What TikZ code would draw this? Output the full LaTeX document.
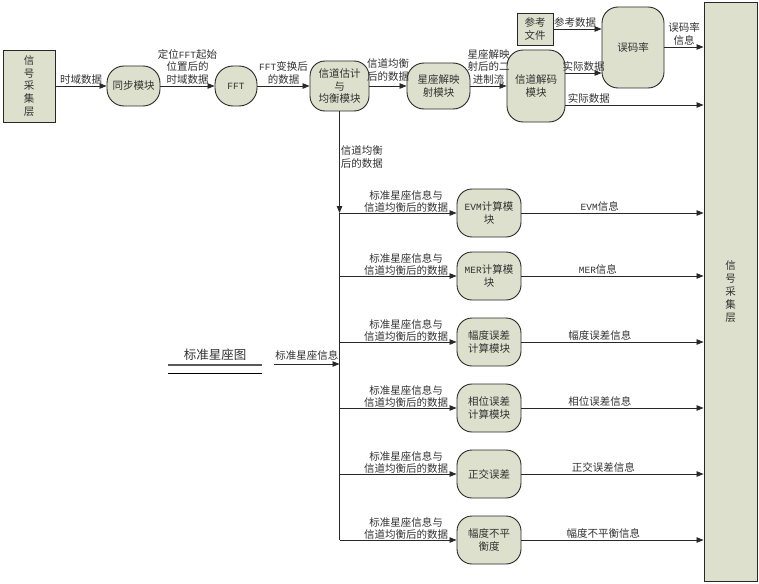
\documentclass[tikz,border=0pt]{standalone}
\usepackage{fontspec}
\setmainfont{Noto Sans CJK SC}
\setmonofont{Liberation Mono}
\usetikzlibrary{arrows.meta}
\definecolor{nodefill}{RGB}{221,224,204}
\definecolor{edgecol}{RGB}{40,40,40}
\definecolor{txtcol}{RGB}{50,50,50}
\newcommand{\lt}[1]{{\ttfamily\fontsize{9.5}{12}\selectfont #1}}
\tikzset{
  base/.style={draw=edgecol, line width=0.9pt, fill=nodefill, align=center, inner sep=1pt,
    text=txtcol, font=\fontsize{10.5}{12.8}\selectfont},
  proc/.style={base, rounded corners=15pt},
  boxnode/.style={base, rectangle},
  arr/.style={-{Triangle[length=7pt,width=5.5pt]}, line width=0.8pt, draw=edgecol},
  plain/.style={line width=0.8pt, draw=edgecol},
  lbl/.style={align=center, inner sep=1pt, text=txtcol, font=\fontsize{10.5}{12.8}\selectfont},
}
\begin{document}
\begin{tikzpicture}[x=1pt,y=-1pt]
\useasboundingbox (0,0) rectangle (759,583);
% main row
\node[boxnode, minimum width=52pt, minimum height=72pt] (src) at (29,86) {信\\号\\采\\集\\层};
\node[proc, minimum width=53pt, minimum height=40pt, rounded corners=17pt] (sync) at (133.5,86) {同步模块};
\node[proc, minimum width=42pt, minimum height=40pt, rounded corners=18pt] (fft) at (236,86) {\lt{FFT}};
\node[proc, minimum width=59pt, minimum height=50pt] (est) at (339.5,86) {信道估计\\与\\均衡模块};
\node[proc, minimum width=63pt, minimum height=46pt, rounded corners=17pt] (demap) at (438.5,86) {星座解映\\射模块};
\node[proc, minimum width=58pt, minimum height=72pt, rounded corners=16pt] (decode) at (536,86) {信道解码\\模块};
\node[boxnode, minimum width=36pt, minimum height=32pt] (ref) at (535,29) {参考\\文件};
\node[proc, minimum width=62pt, minimum height=81pt, rounded corners=16pt] (ber) at (633,47.5) {误码率};
\node[boxnode, minimum width=53pt, minimum height=579pt] (sink) at (730.5,291.5) {信\\号\\采\\集\\层};

% branch modules
\node[proc, minimum width=64pt, minimum height=48pt] (evm) at (489,213) {\lt{EVM}计算模\\块};
\node[proc, minimum width=64pt, minimum height=48pt] (mer) at (489,276) {\lt{MER}计算模\\块};
\node[proc, minimum width=64pt, minimum height=48pt] (amp) at (489,342) {幅度误差\\计算模块};
\node[proc, minimum width=64pt, minimum height=48pt] (pha) at (489,408) {相位误差\\计算模块};
\node[proc, minimum width=64pt, minimum height=48pt] (quad) at (489,474) {正交误差};
\node[proc, minimum width=64pt, minimum height=48pt] (unb) at (489,540) {幅度不平\\衡度};

% main row arrows
\draw[arr] (src.east) -- node[lbl, above] {时域数据} (sync.west);
\draw[arr] (sync.east) -- node[lbl, above] {定位\lt{FFT}起始\\位置后的\\时域数据} (fft.west);
\draw[arr] (fft.east) -- node[lbl, above] {\lt{FFT}变换后\\的数据} (est.west);
\draw[arr] (est.east) -- node[lbl, above=3pt] {信道均衡\\后的数据} (demap.west);
\draw[arr] (demap.east) -- node[lbl, above] {星座解映\\射后的二\\进制流} (decode.west);
\draw[arr] (ref.east) -- node[lbl, above, pos=0.45] {参考数据} (ref.east -| ber.west);
\draw[arr] (decode.east |- 0,73) -- node[lbl, above] {实际数据} (ber.west |- 0,73);
\draw[arr] (decode.east |- 0,105) -- node[lbl, above, pos=0.17] {实际数据} (sink.west |- 0,105);
\draw[arr] (ber.east |- 0,47) -- node[lbl, above] {误码率\\信息} (sink.west |- 0,47);

% trunk
\draw[arr] (est.south) -- node[lbl, right, align=left, pos=0.45] {信道均衡\\后的数据} (est.south |- evm.west);
\draw[plain] (est.south |- evm.west) -- (est.south |- unb.west);

% branches
\foreach \n in {evm,mer,amp,pha,quad,unb}{
  \draw[arr] (est.south |- \n.west) -- (\n.west);
  \node[lbl, anchor=south] at ([yshift=-1pt]\n.west -| 406,0) {标准星座信息与\\信道均衡后的数据};
}
\draw[arr] (evm.east) -- node[lbl, above, pos=0.43] {\lt{EVM}信息} (evm.east -| sink.west);
\draw[arr] (mer.east) -- node[lbl, above, pos=0.42] {\lt{MER}信息} (mer.east -| sink.west);
\draw[arr] (amp.east) -- node[lbl, above, pos=0.43] {幅度误差信息} (amp.east -| sink.west);
\draw[arr] (pha.east) -- node[lbl, above, pos=0.43] {相位误差信息} (pha.east -| sink.west);
\draw[arr] (quad.east) -- node[lbl, above, pos=0.45] {正交误差信息} (quad.east -| sink.west);
\draw[arr] (unb.east) -- node[lbl, above, pos=0.45] {幅度不平衡信息} (unb.east -| sink.west);

% standard constellation store
\node[lbl, font=\fontsize{12.5}{14}\selectfont] (std) at (215,355) {标准星座图};
\coordinate (stdA) at (168,365);
\coordinate (stdB) at (262,365);
\coordinate (stdC) at (168,373);
\coordinate (stdD) at (262,373);
\draw[line width=1.2pt, draw=gray!70!black] (stdA) -- (stdB);
\draw[line width=0.8pt, draw=black] (stdC) -- (stdD);
\coordinate (stdout) at (274,364);
\draw[arr] (stdout) -- node[lbl, above=2pt] {标准星座信息} (stdout -| est.south);
\end{tikzpicture}
\end{document}
